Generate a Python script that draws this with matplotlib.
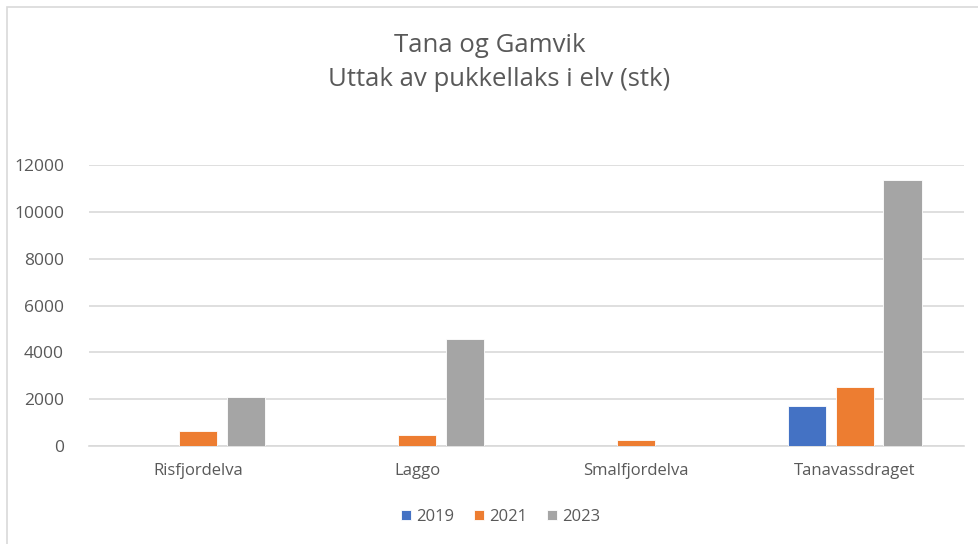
import matplotlib
matplotlib.use("Agg")
import matplotlib.pyplot as plt
import numpy as np

categories = ["Risfjordelva", "Laggo", "Smalfjordelva", "Tanavassdraget"]
years = ["2019", "2021", "2023"]
values_2019 = [0, 0, 0, 1720]
values_2021 = [660, 460, 245, 2510]
values_2023 = [2080, 4560, 0, 11370]
colors = ["#4472C4", "#ED7D31", "#A5A5A5"]

plt.rcParams['font.family'] = ['Open Sans', 'DejaVu Sans']
text_color = "#595959"

fig = plt.figure(figsize=(9.79, 5.44), dpi=100)
W, H = 979, 544
ax = fig.add_axes([89 / W, 1 - 446 / H, (964 - 89) / W, (446 - 165) / H])

x = np.arange(len(categories))
width = 0.174
step = 0.219
for i, (vals, year) in enumerate(zip([values_2019, values_2021, values_2023], years)):
    ax.bar(x + (i - 1) * step, vals, width, color=colors[i], label=year,
           edgecolor="white", linewidth=0.6, zorder=3)

ax.set_xlim(-0.5, len(categories) - 0.5)
ax.set_ylim(0, 12000)
ax.set_yticks(range(0, 12001, 2000))
ax.set_xticks(x)
ax.set_xticklabels(categories)
ax.yaxis.grid(True, color="#D9D9D9", linewidth=1.2, zorder=0)
ax.tick_params(axis="y", length=0, labelsize=12.5, colors=text_color, pad=18)
ax.tick_params(axis="x", length=0, labelsize=12, colors=text_color, pad=12)
for s in ["top", "right", "left"]:
    ax.spines[s].set_visible(False)
ax.spines["bottom"].set_color("#D9D9D9")
ax.spines["bottom"].set_linewidth(1.2)

fig.text(490 / W, 1 - 45 / H, "Tana og Gamvik", ha="center", va="center",
         fontsize=18.5, color=text_color)
fig.text(499 / W, 1 - 80 / H, "Uttak av pukkellaks i elv (stk)", ha="center",
         va="center", fontsize=18.5, color=text_color)

leg = fig.legend(loc="center", bbox_to_anchor=(501 / W, 1 - 517 / H), ncol=3,
                 frameon=False, fontsize=12, handlelength=0.6, handleheight=0.6,
                 columnspacing=1.2, handletextpad=0.3)
for t in leg.get_texts():
    t.set_color(text_color)

# chart area border
fig.add_artist(plt.Rectangle((7 / W, -0.1), 1.1, 1 - 7 / H + 0.1,
                             transform=fig.transFigure, fill=False,
                             edgecolor="#D9D9D9", linewidth=1.2))

fig.savefig("out.png", dpi=100)
